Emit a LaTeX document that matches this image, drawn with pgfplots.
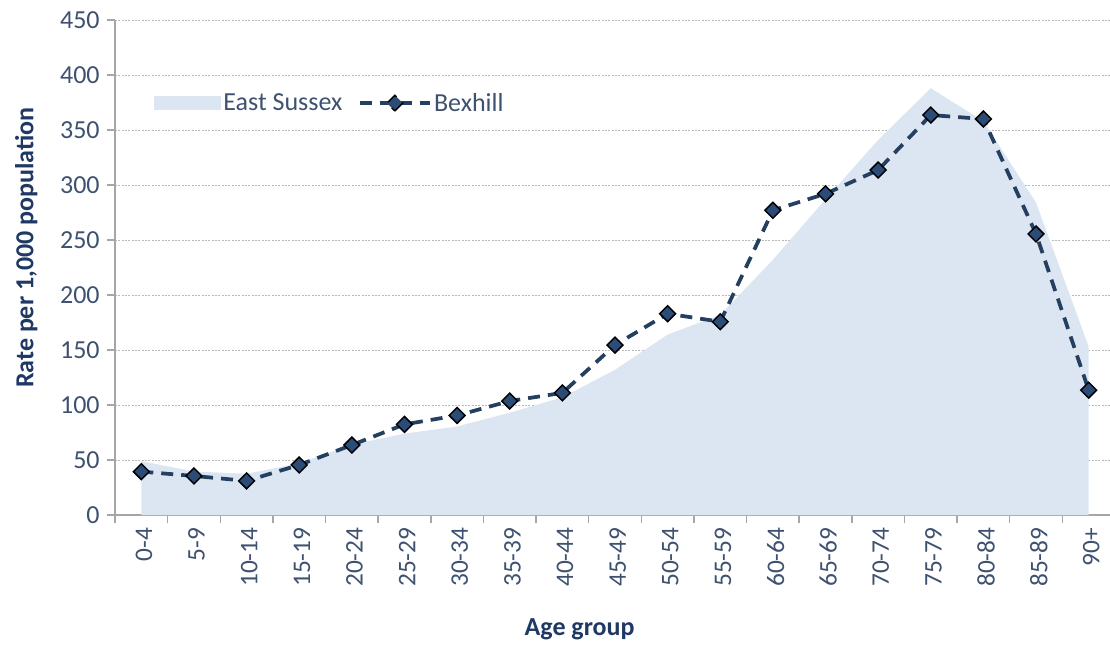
\documentclass[border=0pt]{standalone}
\usepackage{pgfplots}
\pgfplotsset{compat=1.18}
\usepackage{fontspec}
\setmainfont{Carlito}
\definecolor{areafill}{HTML}{DCE6F2}
\definecolor{linecol}{HTML}{243F60}
\definecolor{markfill}{HTML}{2B4C76}
\definecolor{tickcol}{HTML}{3E5170}
\definecolor{labcol}{HTML}{1F3864}
\definecolor{axcol}{HTML}{A6A6A6}
\begin{document}
\begin{tikzpicture}
\useasboundingbox (-86.25pt,-98.25pt) rectangle (746.25pt,386.25pt);
\begin{axis}[
  scale only axis,
  width=746.25pt, height=371.25pt,
  xmin=-0.5, xmax=18.405,
  ymin=0, ymax=450,
  axis x line*=bottom, axis y line*=left,
  axis line style={axcol, line width=1.1pt, -},
  xtick={0,...,18},
  xticklabels={0-4,5-9,10-14,15-19,20-24,25-29,30-34,35-39,40-44,45-49,50-54,55-59,60-64,65-69,70-74,75-79,80-84,85-89,90+},
  major x tick style={draw=none},
  minor xtick={-0.5,0.5,...,18.5},
  minor x tick style={axcol, line width=1.1pt},
  ytick={0,50,...,450},
  y tick style={axcol, line width=1.1pt},
  tick align=outside,
  major tick length=6pt,
  minor tick length=6pt,
  ymajorgrids,
  grid style={gray!55, dash pattern=on 1.5pt off 1pt, line width=0.5pt},
  /pgf/number format/assume math mode=true,
  yticklabel style={font=\fontsize{19.5}{20}\selectfont, text=tickcol, xshift=-2pt},
  xticklabel style={font=\fontsize{19}{20}\selectfont, text=tickcol, rotate=90, anchor=east, yshift=-2pt},
  xlabel={Age group},
  ylabel={Rate per 1,000 population},
  xlabel style={font=\bfseries\fontsize{19.5}{20}\selectfont, text=labcol, at={(axis description cs:0.467,0)}, anchor=center, yshift=-86pt},
  ylabel style={font=\bfseries\fontsize{19.5}{20}\selectfont, text=labcol, at={(axis description cs:0,0.54)}, anchor=center, yshift=66.5pt},
  legend style={draw=none, fill=none, at={(axis description cs:0.035,0.832)}, anchor=west,
    font=\fontsize{19.5}{20}\selectfont, text=tickcol, legend columns=2,
    /tikz/every even column/.append style={column sep=10pt}},
  clip=false,
]
\addplot[fill=areafill, draw=none,
  legend image code/.code={\fill[areafill] (0pt,-5.5pt) rectangle (50pt,5.5pt);}]
  coordinates {
(0,49) (1,39.5) (2,37.5) (3,47) (4,64) (5,74) (6,80.5) (7,93) (8,107) (9,132)
(10,164) (11,182) (12,232) (13,287) (14,341) (15,388) (16,358) (17,284) (18,153)
} \closedcycle;
\addlegendentry{East Sussex}
\addplot[linecol, line width=2.8pt, dash pattern=on 9pt off 6pt,
  mark=square*, mark size=4.2pt,
  mark options={solid, rotate=45, fill=markfill, draw=black, line width=1.1pt},
  legend image code/.code={
    \draw[linecol, line width=2.8pt, dash pattern=on 9pt off 6pt] (0pt,0pt) -- (52pt,0pt);
    \draw[black, fill=markfill, line width=1.1pt] (26pt,0pt) ++(0,-5.9pt) -- ++(5.9pt,5.9pt) -- ++(-5.9pt,5.9pt) -- ++(-5.9pt,-5.9pt) -- cycle;}]
  coordinates {
(0,39.4) (1,35.5) (2,31) (3,45.5) (4,63.6) (5,82.4) (6,90.5) (7,103.6) (8,111) (9,154.5)
(10,183) (11,175.7) (12,277) (13,292) (14,313.6) (15,363.6) (16,360) (17,255.5) (18,113.5)
};
\addlegendentry{Bexhill}
\end{axis}
\end{tikzpicture}
\end{document}
